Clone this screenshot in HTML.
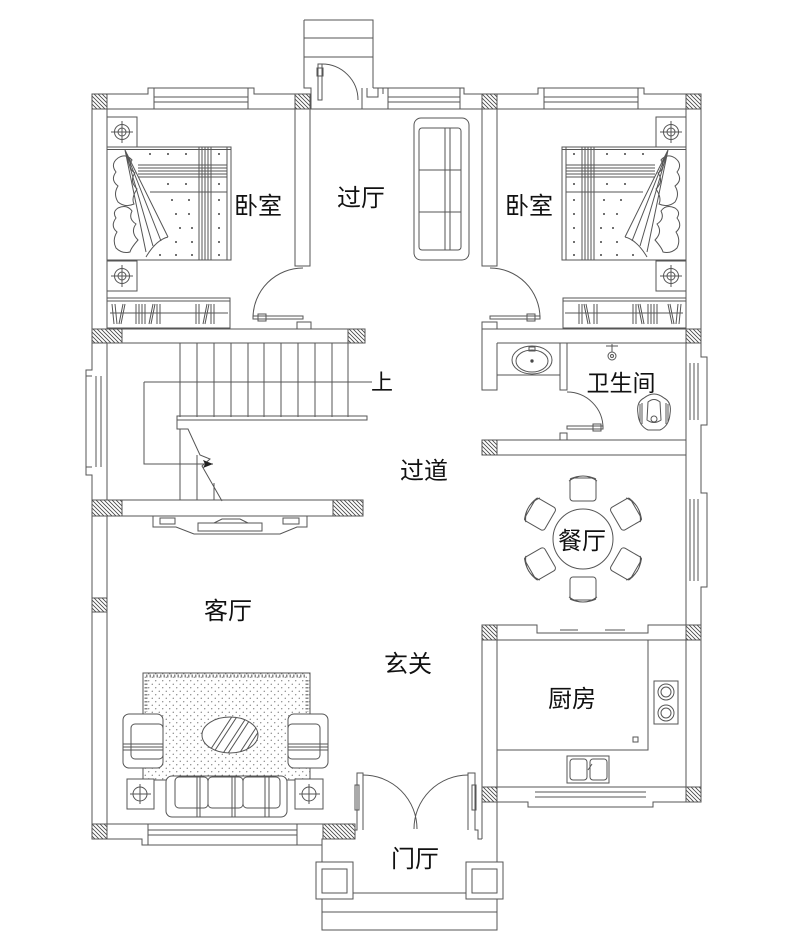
<!DOCTYPE html>
<html><head><meta charset="utf-8"><style>
html,body{margin:0;padding:0;background:#fff;}
svg{display:block;}
text{font-family:"Liberation Sans","Noto Sans CJK SC",sans-serif;fill:#111;}
</style></head><body>
<svg width="789" height="944" viewBox="0 0 789 944" xmlns="http://www.w3.org/2000/svg">
<defs>
<pattern id="h" patternUnits="userSpaceOnUse" width="4" height="4"><path d="M-1,-1L5,5M-1,3L1,5M3,-1L5,1" stroke="#444" stroke-width="0.8"/></pattern>
<pattern id="dots" patternUnits="userSpaceOnUse" width="7" height="7"><circle cx="1.75" cy="1.75" r="0.6" fill="#666"/><circle cx="5.25" cy="5.25" r="0.6" fill="#666"/></pattern>
<clipPath id="ct"><ellipse cx="230" cy="735" rx="28" ry="18"/></clipPath>
</defs>

<g fill="none" stroke="#555" stroke-width="1">

<!-- ===== OUTER WALLS ===== -->
<path d="M92,94 V370 H86 V475 H92 V839"/>
<path d="M107,109 V329 M107,343 V500 M107,516 V824"/>
<path d="M96,376V467 M101,376V467 M86,376H92 M86,467H92"/>

<path d="M107,94 H148 V88 H254 V94 H295"/>
<path d="M154,88 V109 M248,88 V109 M154,97 H248 M154,102 H248"/>
<path d="M304,20 H373 V88 M304,20 V88 H311 V109 M304,38 H373 M304,57 H373"/>
<path d="M362,88 V109 M367,88 V97 H378 V88 M373,88 H383"/>
<path d="M383,88 H464 V94 H482 M383,88 V94"/>
<path d="M388,88 V109 M460,88 V109 M388,97 H460 M388,102 H460"/>
<path d="M497,94 H538 V88 H644 V94 H686"/>
<path d="M544,88 V109 M638,88 V109 M544,97 H638 M544,102 H638"/>
<path d="M107,109 H295 M310,109 H482 M497,109 H686"/>

<path d="M701,94 V357 H707 V425 H701 V493 H707 V587 H701 V802"/>
<path d="M686,109 V802"/>
<path d="M690,363V420 M694,363V420 M698,363V420 M690,499V581 M694,499V581 M698,499V581"/>

<!-- porch door -->
<rect x="318" y="64" width="4" height="36"/>
<rect x="317" y="68" width="6" height="8"/>
<path d="M322,64 A36,36 0 0 1 358,100"/>

<!-- partitions top -->
<path d="M295,109 V266 H310 V109"/>
<path d="M482,109 V266 H497 V109"/>

<!-- bedroom doors -->
<rect x="253" y="316" width="50" height="3"/>
<rect x="258" y="314" width="8" height="7"/>
<path d="M303,268 A50,50 0 0 0 253,318"/>
<rect x="297" y="322" width="14" height="7"/>
<rect x="490" y="316" width="50" height="3"/>
<rect x="527" y="314" width="8" height="7"/>
<path d="M490,268 A50,50 0 0 1 540,318"/>
<rect x="482" y="322" width="15" height="7"/>

<!-- middle wall -->
<path d="M107,329 H297 M311,329 H365 V343 H122"/>
<path d="M497,329 H686 M497,343 H686"/>
<path d="M482,329 V390 H497 V343"/>

<!-- ===== BATHROOM ===== -->
<path d="M560,343 V390 H567 V343 M497,375 H560"/>
<rect x="567" y="426" width="36" height="3"/>
<rect x="593" y="424" width="8" height="7"/>
<path d="M567,392 A36,36 0 0 1 603,428"/>
<rect x="560" y="433" width="7" height="7"/>
<path d="M497,440 H560 M567,440 H686 M497,455 H686 M482,440 V455"/>
<ellipse cx="532" cy="360" rx="20" ry="14"/>
<ellipse cx="532" cy="361" rx="16" ry="11"/>
<rect x="529" y="347" width="6" height="4"/>
<circle cx="532" cy="361" r="1.2" fill="#333"/>
<path d="M612,344 V352 M606,346 H618"/>
<circle cx="612" cy="356" r="4"/>
<circle cx="612" cy="356" r="1.5"/>
<path d="M644,398 Q654,390 664,398 Q672,402 670,414 Q669,426 660,430 H648 Q639,426 638,414 Q636,402 644,398Z"/>
<path d="M648,402 Q654,397 660,402 L661,420 Q654,425 647,420Z"/>
<circle cx="654" cy="419" r="3"/>
<path d="M640,404 V422 M642,403 V424 M668,404 V422 M666,403 V424"/>

<!-- ===== STAIRS ===== -->
<path d="M180,343 V417 M197,343 V417 M214,343 V417 M231,343 V417 M248,343 V417 M264,343 V417 M281,343 V417 M298,343 V417 M315,343 V417 M332,343 V417 M348,343 V417"/>
<path d="M144,382 H372 M144,382 V464 H213"/>
<rect x="177" y="416" width="190" height="4"/>
<path d="M177,420 V429 H188 L200,455 L210,459 L202,466 L222,501"/>
<path d="M180,429 V500 M197,455 V500 M214,483 V500"/>
<path d="M122,500 H363 V516 H122"/>
<!-- TV cabinet -->
<path d="M153,516 V527 H176 L194,534 H280 L297,527 H307 V516"/>
<rect x="160" y="518" width="15" height="6"/>
<rect x="283" y="518" width="16" height="6"/>
<rect x="198" y="523" width="64" height="8"/>
<path d="M214,523 L222,519 H240 L248,523"/>

<!-- ===== LIVING ROOM ===== -->
<path d="M107,824 H323 M92,839 H142 V845 H322 V839 H323"/>
<path d="M148,824 V845 M297,824 V845 M148,830 H297 M148,835 H297"/>

<!-- rug -->
<rect x="143" y="673" width="167" height="107" fill="url(#dots)"/>
<path d="M146,676 H307" stroke-width="3" stroke-dasharray="1.5 2" stroke="#888"/>
<path d="M146,680 V712 M307,680 V712" stroke-width="3" stroke-dasharray="1.5 2" stroke="#888"/>
<!-- armchairs -->
<rect x="123" y="714" width="40" height="54" rx="6" fill="#fff"/>
<rect x="131" y="724" width="32" height="35" rx="4"/>
<path d="M123,744 H163 M123,747 H163 M123,750 H163"/>
<rect x="288" y="714" width="40" height="54" rx="6" fill="#fff"/>
<rect x="288" y="724" width="32" height="35" rx="4"/>
<path d="M288,744 H328 M288,747 H328 M288,750 H328"/>
<!-- coffee table -->
<ellipse cx="230" cy="735" rx="28" ry="18" fill="#fff"/>
<g clip-path="url(#ct)">
<path d="M205,758 L235,712 M210,758 L240,712 M220,758 L250,712 M225,758 L255,712 M235,760 L265,714 M240,760 L270,714"/>
</g>
<!-- sofa -->
<rect x="166" y="776" width="121" height="41" rx="6" fill="#fff"/>
<rect x="175" y="777" width="33" height="31" rx="4"/>
<rect x="208" y="777" width="35" height="31" rx="4"/>
<rect x="243" y="777" width="37" height="31" rx="4"/>
<path d="M197,776 V817 M200,776 V817 M232,776 V817 M235,776 V817 M265,776 V817 M269,776 V817"/>
<!-- side tables -->
<rect x="127" y="779" width="27" height="30" fill="#fff"/>
<circle cx="140" cy="794" r="7"/>
<path d="M130,794 H151 M140,784 V804"/>
<rect x="295" y="779" width="28" height="30" fill="#fff"/>
<circle cx="309" cy="794" r="7"/>
<path d="M299,794 H320 M309,784 V804"/>

<!-- ===== ENTRANCE ===== -->
<path d="M355,830 H357 V773 H363 V830"/>
<rect x="355" y="785" width="4" height="25"/>
<path d="M468,830 V773 H475 V830 H478 V839 H482"/>
<rect x="472" y="785" width="4" height="25"/>
<path d="M363,775 A54,54 0 0 1 417,829"/>
<path d="M468,775 A54,54 0 0 0 414,829"/>
<path d="M322,839 V930 H497 V640 M482,625 V839"/>
<path d="M322,839 H323"/>
<path d="M353,893 H466 M322,912 H497"/>
<rect x="316" y="862" width="37" height="37" fill="#fff"/>
<rect x="322" y="869" width="25" height="24"/>
<rect x="466" y="862" width="37" height="37" fill="#fff"/>
<rect x="472" y="869" width="25" height="24"/>

<!-- ===== KITCHEN ===== -->
<path d="M497,625 H537 V633 H648 V625 H686 M497,640 H686"/>
<path d="M560,630 H578 M605,630 H625"/>
<path d="M648,640 V750 H497"/>
<rect x="654" y="681" width="24" height="43"/>
<circle cx="666" cy="692" r="8"/><circle cx="666" cy="692" r="5"/>
<circle cx="666" cy="713" r="8"/><circle cx="666" cy="713" r="5"/>
<rect x="633" y="737" width="5" height="5"/>
<rect x="567" y="756" width="42" height="27"/>
<rect x="570" y="759" width="17" height="21" rx="3"/>
<rect x="590" y="759" width="17" height="21" rx="3"/>
<path d="M588,770 L592,764"/>
<path d="M497,787 H686 M497,802 H528 V807 H653 V802 H686"/>
<path d="M535,792 H646 M535,797 H646"/>

<!-- ===== DINING ===== -->
<circle cx="583" cy="539" r="30"/>
<g transform="translate(583,488)"><rect x="-13" y="-10" width="26" height="23" rx="3"/><path d="M-14,-7 Q0,-17 14,-7 M-13,-9 Q0,-15 13,-9"/></g>
<g transform="translate(627.2,513.5) rotate(60)"><rect x="-13" y="-10" width="26" height="23" rx="3"/><path d="M-14,-7 Q0,-17 14,-7 M-13,-9 Q0,-15 13,-9"/></g>
<g transform="translate(627.2,564.5) rotate(120)"><rect x="-13" y="-10" width="26" height="23" rx="3"/><path d="M-14,-7 Q0,-17 14,-7 M-13,-9 Q0,-15 13,-9"/></g>
<g transform="translate(583,590) rotate(180)"><rect x="-13" y="-10" width="26" height="23" rx="3"/><path d="M-14,-7 Q0,-17 14,-7 M-13,-9 Q0,-15 13,-9"/></g>
<g transform="translate(538.8,564.5) rotate(240)"><rect x="-13" y="-10" width="26" height="23" rx="3"/><path d="M-14,-7 Q0,-17 14,-7 M-13,-9 Q0,-15 13,-9"/></g>
<g transform="translate(538.8,513.5) rotate(300)"><rect x="-13" y="-10" width="26" height="23" rx="3"/><path d="M-14,-7 Q0,-17 14,-7 M-13,-9 Q0,-15 13,-9"/></g>

<!-- ===== HALL SOFA ===== -->
<rect x="414" y="118" width="55" height="142" rx="7"/>
<rect x="419" y="128" width="42" height="122" rx="3"/>
<path d="M419,170 H461 M419,212 H461 M445,128 V250 M450,128 V250"/>

<!-- ===== LEFT BEDROOM FURNITURE ===== -->
<g id="bedL">
<rect x="107" y="117" width="30" height="30"/>
<circle cx="122" cy="132" r="7.5"/><circle cx="122" cy="132" r="4"/>
<path d="M111,132H133M122,121V143"/>
<rect x="107" y="261" width="30" height="30"/>
<circle cx="122" cy="276" r="7.5"/><circle cx="122" cy="276" r="4"/>
<path d="M111,276H133M122,265V287"/>
<rect x="107" y="147" width="124" height="113"/>
<path d="M107,149.5 H231 M227,147 V260"/>
<path d="M199,147V260 M202,147V260 M205,147V260 M208,147V260 M211,147V260"/>
<path d="M138,165H227 M138,168H227 M138,171H227 M138,174H227 M138,177H227 M150,192H227"/>
<path d="M118,158 Q126,153 132,160 Q127,168 135,173 Q129,181 137,189 Q131,198 134,204 Q125,208 118,202 Q113,194 118,186 Q110,180 116,172 Q110,164 118,158Z"/>
<path d="M118,208 Q127,204 132,211 Q128,219 136,224 Q130,232 138,240 Q131,248 130,252 Q122,254 116,248 Q112,240 117,232 Q110,226 116,218 Q112,212 118,208Z"/>
<path d="M125,150 L168,237 M125,150 L161,241 M125,150 L153,246 M125,150 L146,252"/>
<path d="M168,237 Q156,240 146,257"/>
<g fill="#444" stroke="none">
<circle cx="150" cy="154" r="1"/><circle cx="168" cy="154" r="1"/><circle cx="186" cy="154" r="1"/><circle cx="219" cy="154" r="1"/>
<circle cx="168" cy="184" r="1"/><circle cx="186" cy="184" r="1"/><circle cx="219" cy="184" r="1"/>
<circle cx="172" cy="200" r="1"/><circle cx="189" cy="200" r="1"/><circle cx="219" cy="200" r="1"/>
<circle cx="176" cy="214" r="1"/><circle cx="189" cy="214" r="1"/><circle cx="219" cy="214" r="1"/>
<circle cx="180" cy="228" r="1"/><circle cx="192" cy="228" r="1"/><circle cx="219" cy="228" r="1"/>
<circle cx="176" cy="242" r="1"/><circle cx="192" cy="242" r="1"/><circle cx="219" cy="242" r="1"/>
<circle cx="160" cy="255" r="1"/><circle cx="176" cy="255" r="1"/><circle cx="192" cy="255" r="1"/><circle cx="219" cy="255" r="1"/>
</g>
<rect x="107" y="298" width="123" height="30"/>
<path d="M107,301 H230 M110,313 H228"/>
<path d="M112,304 L114,324 M115,304 L117,324 M119,324 L123,304 M121,324 L125,304"/>
<path d="M136,304 V324 M139,304 V324 M142,304 V324 M145,304 V324"/>
<path d="M149,324 L153,304 M151,324 L155,304 M157,304 V324 M160,304 V324"/>
<path d="M196,304 V324 M199,304 V324 M203,324 L207,304 M205,324 L209,304 M211,304 V324 M214,304 V324"/>
</g>
<use href="#bedL" transform="translate(793,0) scale(-1,1)"/>

</g>

<!-- ===== HATCHED WALL BLOCKS ===== -->
<g fill="url(#h)" stroke="#555" stroke-width="1">
<rect x="92" y="94" width="15" height="15"/>
<rect x="295" y="94" width="15" height="15"/>
<rect x="482" y="94" width="15" height="15"/>
<rect x="686" y="94" width="15" height="15"/>
<rect x="92" y="329" width="30" height="14"/>
<rect x="348" y="329" width="17" height="14"/>
<rect x="686" y="329" width="15" height="14"/>
<rect x="482" y="440" width="15" height="15"/>
<rect x="92" y="500" width="30" height="16"/>
<rect x="333" y="500" width="30" height="16"/>
<rect x="92" y="598" width="15" height="14"/>
<rect x="482" y="625" width="15" height="15"/>
<rect x="686" y="625" width="15" height="15"/>
<rect x="482" y="787" width="15" height="15"/>
<rect x="686" y="787" width="15" height="15"/>
<rect x="92" y="824" width="15" height="15"/>
<rect x="323" y="824" width="32" height="15"/>
</g>
<polygon points="213,464 203,460 205,464 203,468" fill="#222"/>

<!-- ===== LABELS ===== -->
<g font-size="24" text-anchor="middle">
<text x="258" y="214">卧室</text>
<text x="361" y="206">过厅</text>
<text x="529" y="214">卧室</text>
<text x="382" y="390" font-size="22">上</text>
<text x="424" y="479">过道</text>
<text x="621" y="391" font-size="23">卫生间</text>
<text x="582" y="549">餐厅</text>
<text x="228" y="619">客厅</text>
<text x="408" y="672">玄关</text>
<text x="572" y="707">厨房</text>
<text x="415" y="867">门厅</text>
</g>
</svg>
</body></html>
